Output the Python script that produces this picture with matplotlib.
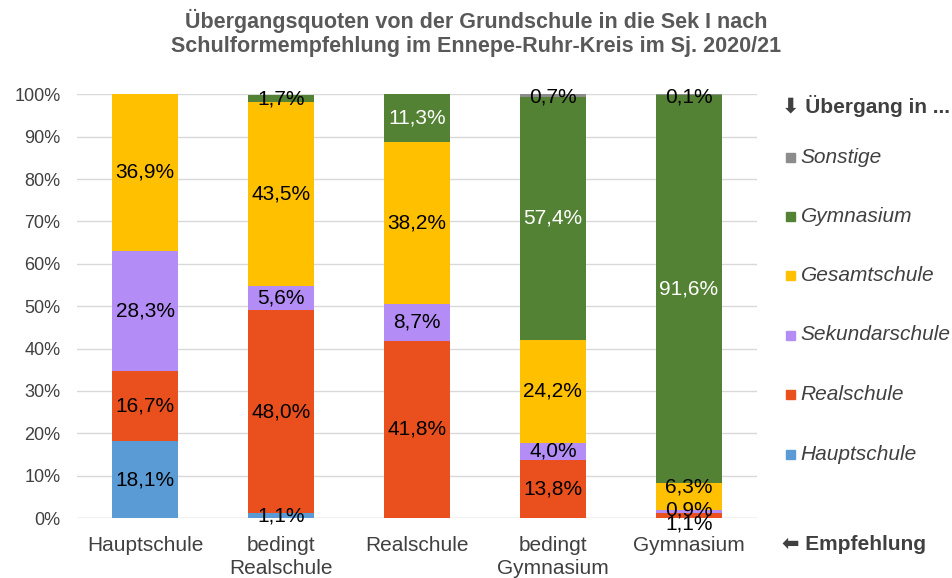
import matplotlib.pyplot as plt
import numpy as np

plt.rcParams["font.family"] = ["Liberation Sans", "DejaVu Sans"]

# ─── Data ─────────────────────────────────────────────────────────────────────
empfehlung = ["Hauptschule", "bedingt\nRealschule", "Realschule",
              "bedingt\nGymnasium", "Gymnasium"]
schulformen = ["Hauptschule", "Realschule", "Sekundarschule",
               "Gesamtschule", "Gymnasium", "Sonstige"]

hauptschule    = [18.1, 1.1, 0.0, 0.0, 0.0]
realschule     = [16.7, 48.0, 41.8, 13.8, 1.1]
sekundarschule = [28.3, 5.6, 8.7, 4.0, 0.9]
gesamtschule   = [36.9, 43.5, 38.2, 24.2, 6.3]
gymnasium      = [0.0, 1.7, 11.3, 57.4, 91.6]
sonstige       = [0.0, 0.0, 0.0, 0.7, 0.1]

series = [hauptschule, realschule, sekundarschule, gesamtschule, gymnasium, sonstige]

COLORS = ["#5B9BD5", "#E9501D", "#B38DF5", "#FFC000", "#548235", "#8C8C8C"]
TXT = "#404040"

# manually nudged label positions (series index, bar index) -> y
NUDGE = {(1, 4): -1.4, (2, 4): 1.9, (3, 4): 7.2,
         (4, 1): 99.0, (5, 3): 99.4, (5, 4): 99.4}

# ─── Plot ─────────────────────────────────────────────────────────────────────
fig = plt.figure(figsize=(9.53, 5.78), dpi=100)
ax = fig.add_axes([0.081, 0.1038, 0.713, 0.733])

x = np.arange(len(empfehlung))
bottom = np.zeros(len(empfehlung))
for si, (vals, col) in enumerate(zip(series, COLORS)):
    vals = np.array(vals)
    ax.bar(x, vals, bottom=bottom, width=0.485, color=col, edgecolor="none", zorder=2)
    for bi, v in enumerate(vals):
        if v <= 0:
            continue
        y = NUDGE.get((si, bi), bottom[bi] + v / 2)
        c = "white" if (si == 4 and v > 5) else "black"
        ax.text(x[bi], y, f"{v:.1f}%".replace(".", ","), ha="center", va="center",
                fontsize=15, color=c, zorder=3)
    bottom += vals

ax.set_xlim(-0.5, 4.5)
ax.set_ylim(0, 100)
ax.set_yticks(range(0, 101, 10))
ax.set_yticklabels([f"{v}%" for v in range(0, 101, 10)], fontsize=13)
ax.set_xticks(x)
ax.set_xticklabels(empfehlung, fontsize=15, linespacing=1.25)
ax.tick_params(length=0, labelcolor=TXT)
ax.tick_params(axis="y", pad=12)
ax.tick_params(axis="x", pad=13)
ax.grid(axis="y", color="#D9D9D9", linewidth=1, zorder=0)
for s in ax.spines.values():
    s.set_visible(False)
ax.axhline(0, color="#D9D9D9", linewidth=1, zorder=1)

fig.text(0.5, 0.985, "Übergangsquoten von der Grundschule in die Sek I nach\n"
         "Schulformempfehlung im Ennepe-Ruhr-Kreis im Sj. 2020/21",
         ha="center", va="top", fontsize=15.5, fontweight="bold", color="#595959",
         linespacing=1.2)

# legend, drawn by hand on the right
fig.text(0.821, 1 - 106 / 578, "\u2b07 Übergang in ...", ha="left", va="center",
         fontsize=15, fontweight="bold", color=TXT)
leg_y = [454, 394, 335, 275, 216, 157]
for name, col, yp in zip(schulformen, COLORS, leg_y):
    fig.patches.append(plt.Rectangle((0.8245, 1 - yp / 578 - 0.009), 0.0095, 0.0156,
                                     transform=fig.transFigure, color=col))
    fig.text(0.840, 1 - yp / 578, name, ha="left", va="center", fontsize=15,
             style="italic", color=TXT)

fig.text(0.821, 1 - 545 / 578, "\u2b05 Empfehlung", ha="left", va="center",
         fontsize=15, fontweight="bold", color=TXT)

plt.savefig("out.png", dpi=100)
